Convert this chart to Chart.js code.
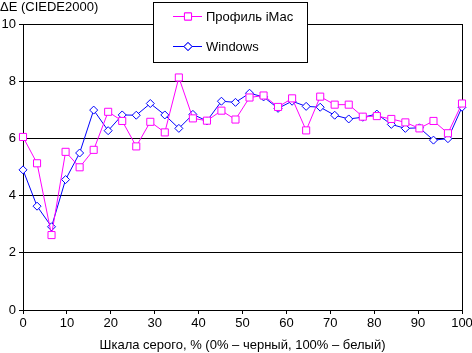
<!DOCTYPE html>
<html>
<head>
<meta charset="utf-8">
<script src="https://cdn.jsdelivr.net/npm/chart.js@4.4.1/dist/chart.umd.min.js"></script>
<style>
    html, body { margin: 0; padding: 0; background: #fff; }
    #wrap { width: 472px; height: 353px; position: relative; }
</style>
</head>
<body>
<div id="wrap">
    <canvas id="grayChart"></canvas>
</div>

<script>
    // Gray levels, % (0% - black, 100% - white)
    const grayLevels = [0, 3.2, 6.5, 9.7, 12.9, 16.1, 19.4, 22.6, 25.8, 29.0, 32.3, 35.5, 38.7, 41.9, 45.2, 48.4,
        51.6, 54.8, 58.1, 61.3, 64.5, 67.7, 71.0, 74.2, 77.4, 80.6, 83.9, 87.1, 90.3, 93.5, 96.8, 100];

    // dE (CIEDE2000)
    const imacProfile = [6.05, 5.13, 2.62, 5.53, 4.99, 5.60, 6.93, 6.61, 5.72, 6.58, 6.21, 8.13, 6.70, 6.62, 6.97, 6.66,
        7.43, 7.50, 7.10, 7.40, 6.28, 7.46, 7.18, 7.18, 6.76, 6.78, 6.68, 6.56, 6.35, 6.61, 6.18, 7.22];
    const windowsValues = [4.90, 3.63, 2.91, 4.56, 5.49, 6.99, 6.27, 6.82, 6.81, 7.22, 6.82, 6.35, 6.84, 6.61, 7.30, 7.26,
        7.58, 7.45, 7.05, 7.30, 7.12, 7.09, 6.81, 6.68, 6.74, 6.85, 6.49, 6.35, 6.37, 5.94, 5.99, 7.09];

    const seriesNames = ["Профиль iMac", "Windows"];
    const yTitle = "ΔE (CIEDE2000)";
    const xTitle = "Шкала серого, % (0% – черный, 100% – белый)";

    const FONT = "Arial, 'Liberation Sans', sans-serif";

    function toPoints(values) {
        return values.map((v, i) => ({ x: grayLevels[i], y: v }));
    }

    // Title above the axis + boxed legend inside the plot
    const overlayPlugin = {
        id: "overlay",
        afterDraw(chart) {
            const ctx = chart.ctx;
            ctx.save();
            ctx.fillStyle = "#000";
            ctx.font = "13px " + FONT;
            ctx.textAlign = "left";
            ctx.textBaseline = "alphabetic";
            ctx.fillText(yTitle, 0, 11);

            // legend box
            ctx.fillStyle = "#fff";
            ctx.fillRect(153.5, 2.5, 154, 60);
            ctx.strokeStyle = "#000";
            ctx.lineWidth = 1;
            ctx.strokeRect(153.5, 2.5, 154, 60);

            const rows = [16, 46];
            chart.data.datasets.forEach((ds, i) => {
                const y = rows[i] + 0.5;
                ctx.strokeStyle = ds.borderColor;
                ctx.beginPath();
                ctx.moveTo(173, y);
                ctx.lineTo(202, y);
                ctx.stroke();
                Chart.helpers.drawPoint(ctx, {
                    pointStyle: ds.pointStyle,
                    radius: ds.pointRadius,
                    borderWidth: 1
                }, 188, y);
                ctx.fillStyle = "#fff";
                ctx.fill();
                ctx.stroke();
                ctx.fillStyle = "#000";
                ctx.textBaseline = "middle";
                ctx.fillText(ds.label, 206, y + 1);
            });
            ctx.restore();
        }
    };

    new Chart(document.getElementById("grayChart"), {
        type: "line",
        data: {
            datasets: [{
                label: seriesNames[0],
                data: toPoints(imacProfile),
                borderColor: "#ff00ff",
                borderWidth: 1,
                pointStyle: "rect",
                pointRadius: 5,
                pointBorderWidth: 1,
                pointBackgroundColor: "#fff",
                pointBorderColor: "#ff00ff",
                tension: 0,
                clip: false
            }, {
                label: seriesNames[1],
                data: toPoints(windowsValues),
                borderColor: "#0000ff",
                borderWidth: 1,
                pointStyle: "rectRot",
                pointRadius: 4,
                pointBorderWidth: 1,
                pointBackgroundColor: "#fff",
                pointBorderColor: "#0000ff",
                tension: 0,
                clip: false
            }]
        },
        options: {
            responsive: true,
            maintainAspectRatio: false,
            animation: false,
            layout: { padding: { top: 24, right: 10, left: 0, bottom: 0 } },
            plugins: {
                legend: { display: false },
                tooltip: { enabled: false }
            },
            scales: {
                x: {
                    type: "linear",
                    min: 0,
                    max: 100,
                    ticks: { stepSize: 10, color: "#000", font: { family: FONT, size: 13 }, padding: 2, maxRotation: 0 },
                    grid: { drawOnChartArea: false, drawTicks: true, tickLength: 4, color: "#000" },
                    border: { display: true, color: "#000" },
                    title: {
                        display: true,
                        text: xTitle,
                        color: "#000",
                        font: { family: FONT, size: 13 },
                        padding: { top: 0, bottom: 0 }
                    },
                    afterFit: s => {
                        s.height = 43;
                        s.paddingLeft = 0;
                        s.paddingRight = 0;
                    }
                },
                y: {
                    min: 0,
                    max: 10,
                    ticks: { stepSize: 2, color: "#000", font: { family: FONT, size: 13 }, padding: 3 },
                    grid: { color: "#000", tickLength: 4 },
                    border: { display: true, color: "#000" },
                    afterFit: s => { s.width = 23; }
                },
                y2: {
                    position: "right",
                    min: 0,
                    max: 10,
                    ticks: { display: false },
                    grid: { display: false },
                    border: { display: true, color: "#000" },
                    afterFit: s => { s.width = 0; }
                }
            }
        },
        plugins: [overlayPlugin]
    });
</script>
</body>
</html>
